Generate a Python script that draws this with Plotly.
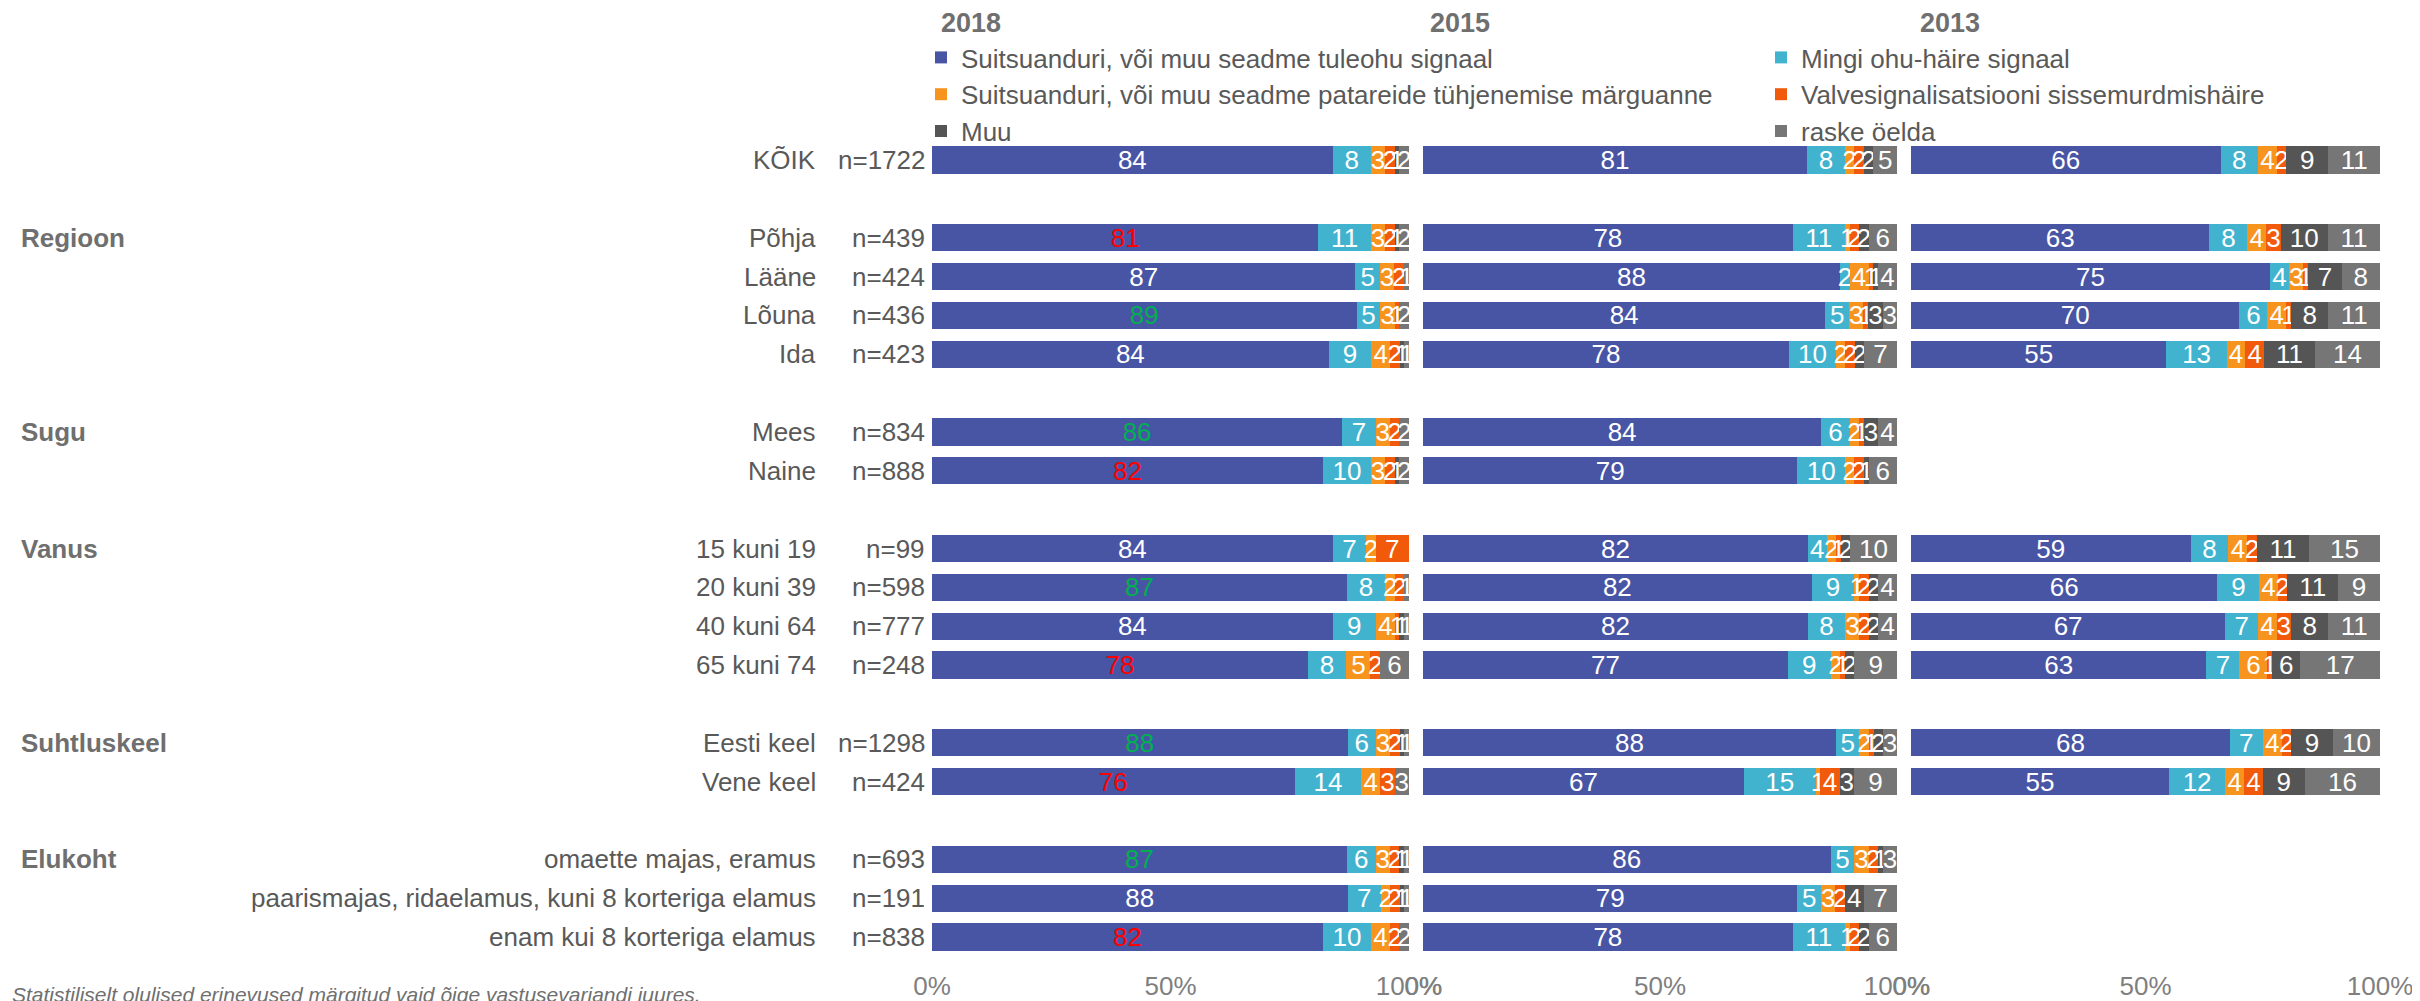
import plotly.graph_objects as go

# ---------------- data ----------------
years = ["2018", "2015", "2013"]
series_names = [
    "Suitsuanduri, või muu seadme tuleohu signaal",
    "Mingi ohu-häire signaal",
    "Suitsuanduri, või muu seadme patareide tühjenemise märguanne",
    "Valvesignalisatsiooni sissemurdmishäire",
    "Muu",
    "raske öelda",
]
categories = ["KÕIK", "Põhja", "Lääne", "Lõuna", "Ida", "Mees", "Naine",
              "15 kuni 19", "20 kuni 39", "40 kuni 64", "65 kuni 74",
              "Eesti keel", "Vene keel", "omaette majas, eramus",
              "paarismajas, ridaelamus, kuni 8 korteriga elamus",
              "enam kui 8 korteriga elamus"]
sample_sizes = [1722, 439, 424, 436, 423, 834, 888, 99, 598, 777, 248, 1298, 424, 693, 191, 838]
group_names = ["", "Regioon", "Sugu", "Vanus", "Suhtluskeel", "Elukoht"]
group_sizes = [1, 4, 2, 4, 2, 3]

fire_2018 = [84, 81, 87, 89, 84, 86, 82, 84, 87, 84, 78, 88, 76, 87, 88, 82]
alarm_2018 = [8, 11, 5, 5, 9, 7, 10, 7, 8, 9, 8, 6, 14, 6, 7, 10]
battery_2018 = [3, 3, 3, 3, 4, 3, 3, 2, 2, 4, 5, 3, 4, 3, 2, 4]
burglar_2018 = [2, 2, 2, 1, 2, 2, 2, 7, 2, 1, 2, 2, 3, 2, 2, 2]
other_2018 = [1, 1, 0, 0, 1, 0, 1, 0, 0, 1, 0, 1, 0, 1, 1, 0]
dontknow_2018 = [2, 2, 1, 2, 1, 2, 2, 0, 1, 1, 6, 1, 3, 1, 1, 2]
# significance of the 2018 first answer: +1 higher, -1 lower, 0 none
significance_2018 = [0, -1, 0, 1, 0, 1, -1, 0, 1, 0, -1, 1, -1, 1, 0, -1]

fire_2015 = [81, 78, 88, 84, 78, 84, 79, 82, 82, 82, 77, 88, 67, 86, 79, 78]
alarm_2015 = [8, 11, 2, 5, 10, 6, 10, 4, 9, 8, 9, 5, 15, 5, 5, 11]
battery_2015 = [2, 1, 4, 3, 2, 2, 2, 2, 1, 3, 2, 2, 1, 3, 3, 1]
burglar_2015 = [2, 2, 1, 1, 2, 1, 2, 1, 2, 2, 1, 1, 4, 2, 2, 2]
other_2015 = [2, 2, 1, 3, 2, 3, 1, 2, 2, 2, 2, 2, 3, 1, 4, 2]
dontknow_2015 = [5, 6, 4, 3, 7, 4, 6, 10, 4, 4, 9, 3, 9, 3, 7, 6]

fire_2013 = [66, 63, 75, 70, 55, None, None, 59, 66, 67, 63, 68, 55, None, None, None]
alarm_2013 = [8, 8, 4, 6, 13, None, None, 8, 9, 7, 7, 7, 12, None, None, None]
battery_2013 = [4, 4, 3, 4, 4, None, None, 4, 4, 4, 6, 4, 4, None, None, None]
burglar_2013 = [2, 3, 1, 1, 4, None, None, 2, 2, 3, 1, 2, 4, None, None, None]
other_2013 = [9, 10, 7, 8, 11, None, None, 11, 11, 8, 6, 9, 9, None, None, None]
dontknow_2013 = [11, 11, 8, 11, 14, None, None, 15, 9, 11, 17, 10, 16, None, None, None]

tick_values = [0, 50, 100]
tick_labels = ["0%", "50%", "100%"]

# ---------------- styling ----------------
FONT = "Arial, 'Liberation Sans', sans-serif"
colors = ["#4855A5", "#41B3CF", "#F7941E", "#F15A0A", "#555555", "#767676"]
sig_colors = {0: "#FFFFFF", 1: "#00B050", -1: "#FF0000"}
label_gray = "#595959"
legend_of_series = ["legend", "legend2", "legend", "legend2", "legend", "legend2"]

year_data = {
    "2018": [fire_2018, alarm_2018, battery_2018, burglar_2018, other_2018, dontknow_2018],
    "2015": [fire_2015, alarm_2015, battery_2015, burglar_2015, other_2015, dontknow_2015],
    "2013": [fire_2013, alarm_2013, battery_2013, burglar_2013, other_2013, dontknow_2013],
}
axis_ids = {"2018": "x", "2015": "x2", "2013": "x3"}

# row positions with a blank row between groups
positions = []
group_first = []
s = 0
for size in group_sizes:
    group_first.append(s)
    for k in range(size):
        positions.append(s)
        s += 1
    s += 1
n_slots = s - 1

fig = go.Figure()
for year in years:
    for si, (name, vals) in enumerate(zip(series_names, year_data[year])):
        texts = ["" if (v is None or v == 0) else str(v) for v in vals]
        if si == 0 and year == "2018":
            tcolors = [sig_colors[g] for g in significance_2018]
        else:
            tcolors = ["#FFFFFF"] * len(vals)
        fig.add_trace(go.Bar(
            x=vals, y=positions, orientation="h", name=name,
            marker=dict(color=colors[si], line=dict(width=0)),
            width=0.7,
            text=texts, textposition="inside", insidetextanchor="middle",
            textangle=0, constraintext="none",
            textfont=dict(family=FONT, size=26, color=tcolors),
            xaxis=axis_ids[year], yaxis="y",
            legend=legend_of_series[si],
            legendgroup=name, showlegend=(year == "2018"),
            hoverinfo="skip",
        ))

# page is offset by the default 8px body margin
OFF = 8
W, H = 2420 - OFF, 1001 - OFF
domains = {"2018": (932, 1409), "2015": (1423, 1897), "2013": (1911, 2380)}
top_px, bot_px = 140.6, 956.4

def px_x(p):
    return (p - OFF) / W

def px_y(p):
    return 1 - (p - OFF) / H

axis_common = dict(range=[0, 100], tickvals=tick_values, ticktext=tick_labels,
                   showgrid=False, zeroline=False, showline=False, ticks="",
                   tickfont=dict(family=FONT, size=26, color="#7F7F7F"),
                   anchor="y", ticklabelstandoff=12, fixedrange=True, automargin=False)

legend_common = dict(orientation="v", xanchor="left", yanchor="top",
                     itemwidth=30, font=dict(family=FONT, size=26, color=label_gray),
                     bgcolor="rgba(0,0,0,0)", tracegroupgap=0, traceorder="normal",
                     itemclick=False, itemdoubleclick=False, borderwidth=0)

layout = dict(
    width=W, height=H, margin=dict(l=0, r=0, t=0, b=0, pad=0, autoexpand=False),
    paper_bgcolor="white", plot_bgcolor="white",
    barmode="stack", barnorm="percent",
    font=dict(family=FONT, size=26, color=label_gray),
    yaxis=dict(range=[n_slots - 0.5, -0.5], domain=[px_y(bot_px), px_y(top_px)],
               showticklabels=False, showgrid=False, zeroline=False, showline=False,
               fixedrange=True, automargin=False),
    legend=dict(legend_common, x=px_x(921), y=px_y(34)),
    legend2=dict(legend_common, x=px_x(1761), y=px_y(34)),
)
for year in years:
    key = "xaxis" if axis_ids[year] == "x" else "xaxis" + axis_ids[year][1:]
    d0, d1 = domains[year]
    layout[key] = dict(axis_common, domain=[px_x(d0), px_x(d1)])
fig.update_layout(**layout)

annotations = []
for cat, n, pos in zip(categories, sample_sizes, positions):
    annotations.append(dict(x=px_x(818), xref="paper", y=pos, yref="y", text=cat,
                            showarrow=False, xanchor="right", yanchor="middle",
                            font=dict(family=FONT, size=26, color=label_gray)))
    annotations.append(dict(x=px_x(927), xref="paper", y=pos, yref="y", text="n=%d" % n,
                            showarrow=False, xanchor="right", yanchor="middle",
                            font=dict(family=FONT, size=26, color=label_gray)))
for g, first in zip(group_names, group_first):
    if g:
        annotations.append(dict(x=px_x(19), xref="paper", y=first, yref="y",
                                text="<b>%s</b>" % g, showarrow=False,
                                xanchor="left", yanchor="middle",
                                font=dict(family=FONT, size=26, color="#6F6F6F")))
year_left = {"2018": 939, "2015": 1428, "2013": 1918}
for year in years:
    annotations.append(dict(x=px_x(year_left[year]), xref="paper", y=px_y(23), yref="paper",
                            text="<b>%s</b>" % year, showarrow=False,
                            xanchor="left", yanchor="middle",
                            font=dict(family=FONT, size=27, color="#6F6F6F")))
annotations.append(dict(x=px_x(10), xref="paper", y=px_y(994), yref="paper",
                        text="<i>Statistiliselt olulised erinevused märgitud vaid õige vastusevariandi juures.</i>",
                        showarrow=False, xanchor="left", yanchor="middle",
                        font=dict(family=FONT, size=21, color="#6F6F6F")))
fig.update_layout(annotations=annotations)

fig.write_html("out.html")
